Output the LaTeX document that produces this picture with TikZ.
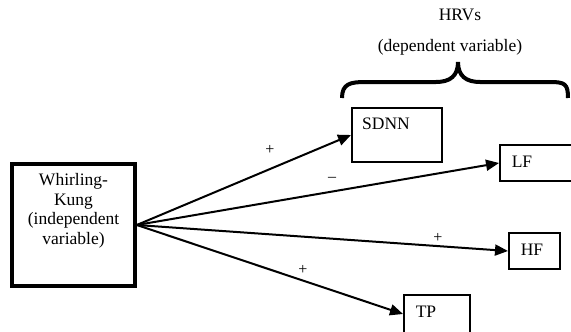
\documentclass[tikz,border=0pt]{standalone}
\usepackage{fontspec}
\setmainfont{Liberation Serif}
\usetikzlibrary{arrows.meta}
\begin{document}
\begin{tikzpicture}[x=1pt,y=-1pt,
  txt/.style={inner sep=0pt,font=\fontsize{17.5}{19.5}\selectfont},
  sml/.style={inner sep=0pt,font=\fontsize{16}{18}\selectfont},
  hbox/.style={draw,line width=2pt,inner sep=0pt},
  conn/.style={line width=2pt,-{Triangle[length=13pt,width=11pt]}}]
\useasboundingbox (0,0) rectangle (571,332);
% independent variable box
\node[draw,line width=3.5pt,minimum width=123pt,minimum height=122pt,inner sep=0pt] (wk) at (73.5,225) {};
\node[txt,align=center] (wktext) at (73.5,211) {Whirling-\\Kung\\(independent\\variable)};
% dependent variable boxes
\node[hbox,minimum width=90pt,minimum height=54pt] (sdnn) at (397,135) {};
\node[txt] (sdnntext) at (386,124) {SDNN};
\node[hbox,minimum width=72pt,minimum height=36pt] (lf) at (536,163) {};
\node[txt] (lftext) at (522,162) {LF};
\node[hbox,minimum width=51pt,minimum height=36pt] (hf) at (534.5,251) {};
\node[txt] (hftext) at (532,250) {HF};
\node[hbox,minimum width=66pt,minimum height=38pt] (tp) at (437,314) {};
\node[txt] (tptext) at (426,312) {TP};
% header
\node[txt] (hrvs) at (460,15) {HRVs};
\node[txt] (dep) at (450,47) {(dependent variable)};
% brace
\draw[line width=4pt] (342,98) .. controls (342,84) and (350,82) .. (365,82) -- (436,82)
  .. controls (450,82) and (458,76) .. (458,62)
  .. controls (458,76) and (466,82) .. (480,82) -- (550,82)
  .. controls (565,82) and (568,84) .. (568,98);
% connectors
\draw[conn] (wk.east) -- (sdnn.west);
\draw[conn] (wk.east) -- (lf.west);
\draw[conn] (wk.east) -- (hf.west);
\draw[conn] (wk.east) -- (tp.west);
% signs
\node[sml] (s1) at (270,150) {+};
\node[sml] (s2) at (332,179) {–};
\node[sml] (s3) at (438,238) {+};
\node[sml] (s4) at (303,270) {+};
\end{tikzpicture}
\end{document}
